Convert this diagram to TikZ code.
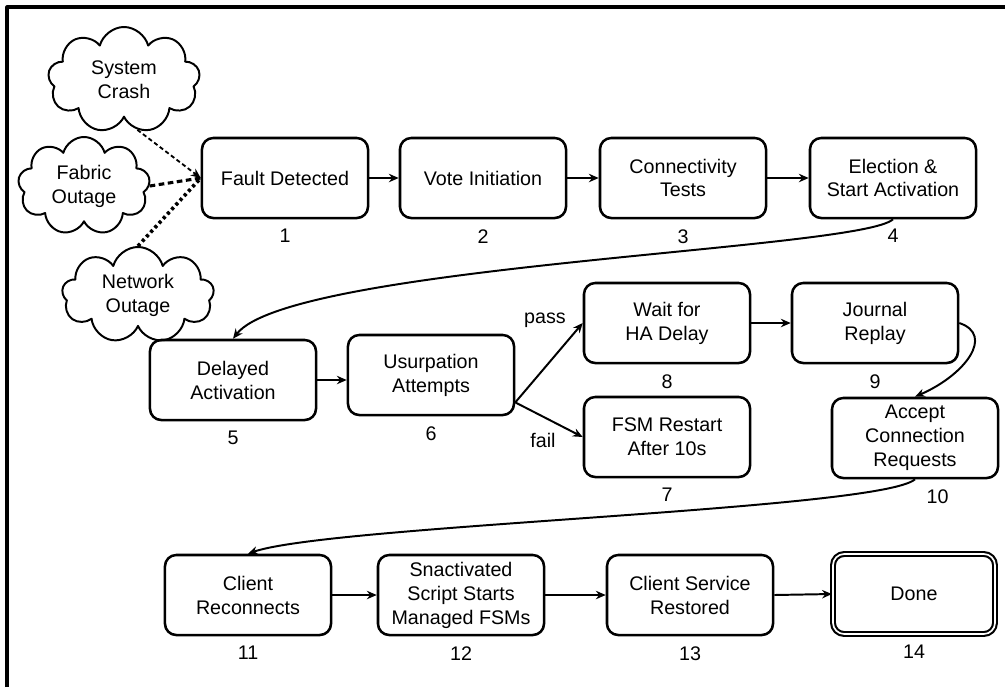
\documentclass[tikz,border=0pt]{standalone}
\usepackage{fontspec}
\setmainfont{Liberation Sans}
\usepackage{tikz}
\usetikzlibrary{arrows.meta,shapes.symbols,positioning}

\begin{document}
\begin{tikzpicture}[
  x=0.025cm,
  y=-0.025cm,
  font=\fontsize{14}{17}\selectfont,
  line join=round,
  arr/.style={
    -{Stealth[length=7pt,width=6pt]},
    line width=1.4pt
  },
  stage/.style={
    rectangle,
    rounded corners=8pt,
    draw,
    line width=1.8pt,
    minimum width=4.15cm,
    minimum height=2cm,
    align=center
  },
  final/.style={
    stage,
    double,
    double distance=1.2pt,
    line width=1.5pt,
    minimum width=4.05cm,
    minimum height=2.0cm
  },
  cause/.style={
    cloud,
    cloud puffs=9,
    cloud ignores aspect,
    draw,
    line width=1.4pt,
    inner sep=0pt,
    align=center
  },
  num/.style={inner sep=0pt}
]

\useasboundingbox (0,0) rectangle (1005,687);
\draw[line width=2.2pt] (7,687) |- (1005,7);

% ------------------------------------------------------------
% Causes
% ------------------------------------------------------------

\node[cause,minimum width=3.8cm,minimum height=2.65cm] (crash)
  at (124,80) {System\\Crash};
\node[cause,minimum width=3.3cm,minimum height=2.45cm] (fabric)
  at (84,186) {Fabric\\Outage};
\node[cause,minimum width=3.8cm,minimum height=2.4cm] (network)
  at (138,295) {Network\\Outage};

% ------------------------------------------------------------
% Stages
% ------------------------------------------------------------

\node[stage] (fault)   at (285,178) {Fault Detected};
\node[stage] (vote)    at (483,178) {Vote Initiation};
\node[stage] (conn)    at (683,178) {Connectivity\\Tests};
\node[stage] (elect)   at (893,178) {Election \&\\Start Activation};

\node[stage] (delay)   at (233,380) {Delayed\\Activation};
\node[stage] (usurp)   at (431,375) {Usurpation\\Attempts};
\node[stage] (wait)    at (667,323) {Wait for\\HA Delay};
\node[stage] (replay)  at (875,323) {Journal\\Replay};
\node[stage] (restart) at (667,437) {FSM Restart\\After 10s};
\node[stage] (accept)  at (915,438) {Accept\\Connection\\Requests};

\node[stage] (reconn)   at (248,595) {Client\\Reconnects};
\node[stage] (script)   at (461,595) {Snactivated\\Script Starts\\Managed FSMs};
\node[stage] (restored) at (690,595) {Client Service\\Restored};
\node[final] (done)     at (914,594) {Done};

\foreach \b/\j in {fault/1,vote/2,conn/3,elect/4,delay/5,usurp/6,
                   restart/7,wait/8,replay/9,reconn/11,script/12,
                   restored/13,done/14}{
  \node[num,below=7pt of \b] (num\j) {\j};
}
\node[num,below=7pt of accept,xshift=16pt] (num10) {10};

% ------------------------------------------------------------
% Connectors
% ------------------------------------------------------------

\draw[arr,line width=1.3pt,dash pattern=on 3pt off 2pt]
  (crash.285) -- (fault.west);
\draw[line width=2.2pt,dash pattern=on 4pt off 2.5pt]
  (fabric.east) -- (fault.west);
\draw[line width=2.6pt,dash pattern=on 2.2pt off 2.2pt]
  (network.north) -- (fault.west);

\draw[arr] (fault.east) -- (vote.west);
\draw[arr] (vote.east) -- (conn.west);
\draw[arr] (conn.east) -- (elect.west);

\draw[arr]
  (elect.south)
  .. controls (860,250) and (290,265) ..
  (delay.north);

\draw[arr] (delay.east) -- (usurp.west |- delay.east);

\draw[arr] (usurp.-18) -- (wait.west);
\draw[arr] (usurp.-18) -- (restart.west);
\node[num] (pass) at (545,320) {pass};
\node[num] (fail) at (543,440) {fail};

\draw[arr] (wait.east) -- (replay.west);

\draw[arr]
  (replay.east)
  .. controls (995,335) and (965,375) ..
  (accept.north);

\draw[arr]
  (accept.south)
  .. controls (880,510) and (330,525) ..
  (reconn.north);

\draw[arr] (reconn.east) -- (script.west);
\draw[arr] (script.east) -- (restored.west);
\draw[arr] (restored.east) -- (done.west);
\end{tikzpicture}
\end{document}
